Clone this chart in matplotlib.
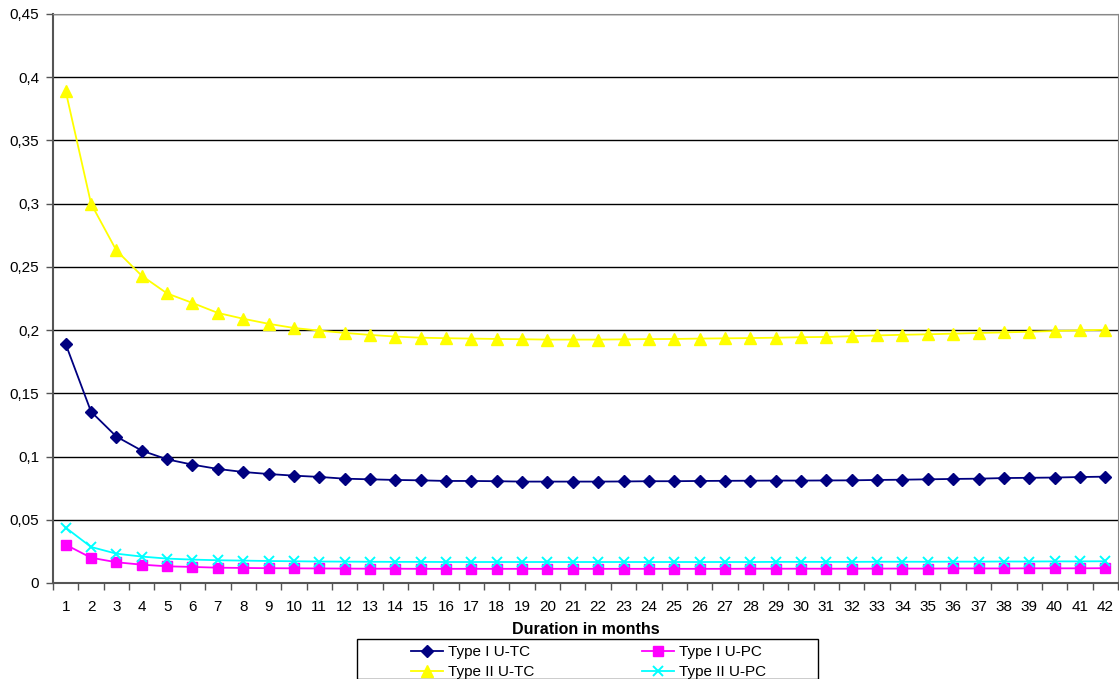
import matplotlib.pyplot as plt
from matplotlib.patches import Rectangle
from matplotlib.ticker import FuncFormatter, MultipleLocator

plt.rcParams['font.family'] = ['Liberation Sans', 'DejaVu Sans']

months = list(range(1, 43))

type1_utc = [0.189, 0.1355, 0.1158, 0.1047, 0.0978, 0.0936, 0.0902, 0.0878, 0.0862, 0.0849,
             0.0839, 0.0825, 0.0820, 0.0815, 0.0812, 0.0807, 0.0807, 0.0805, 0.0802, 0.0802,
             0.0802, 0.0802, 0.0803, 0.0805, 0.0805, 0.0807, 0.0808, 0.0809, 0.0810, 0.0810,
             0.0811, 0.0812, 0.0815, 0.0817, 0.0820, 0.0823, 0.0825, 0.0830, 0.0832, 0.0834,
             0.0838, 0.0841]
type1_upc = [0.0303, 0.0200, 0.0164, 0.0145, 0.0132, 0.0127, 0.0121, 0.0119, 0.0117, 0.0116,
             0.0115, 0.0114, 0.0113, 0.0113, 0.0112, 0.0112, 0.0112, 0.0112, 0.0112, 0.0112,
             0.0112, 0.0112, 0.0112, 0.0112, 0.0112, 0.0112, 0.0112, 0.0113, 0.0113, 0.0113,
             0.0113, 0.0113, 0.0114, 0.0114, 0.0114, 0.0115, 0.0115, 0.0115, 0.0116, 0.0116,
             0.0116, 0.0117]
type2_utc = [0.389, 0.300, 0.263, 0.243, 0.229, 0.2215, 0.2136, 0.209, 0.205, 0.2017,
             0.1996, 0.1978, 0.1962, 0.1949, 0.1940, 0.1936, 0.1933, 0.1930, 0.1928, 0.1925,
             0.1925, 0.1925, 0.1927, 0.1929, 0.1930, 0.1933, 0.1935, 0.1937, 0.1940, 0.1944,
             0.1946, 0.1952, 0.1958, 0.1963, 0.1967, 0.1972, 0.1977, 0.1982, 0.1987, 0.1993,
             0.1998, 0.2002]
type2_upc = [0.0438, 0.0285, 0.0232, 0.0209, 0.0193, 0.0185, 0.0180, 0.0177, 0.0174, 0.0172,
             0.0170, 0.0169, 0.0168, 0.0167, 0.0167, 0.0166, 0.0166, 0.0166, 0.0166, 0.0166,
             0.0166, 0.0166, 0.0166, 0.0166, 0.0166, 0.0166, 0.0166, 0.0166, 0.0167, 0.0167,
             0.0167, 0.0167, 0.0168, 0.0168, 0.0168, 0.0169, 0.0169, 0.0170, 0.0170, 0.0171,
             0.0171, 0.0172]

W, H = 1119, 679
fig = plt.figure(figsize=(W / 100, H / 100), dpi=100)
ax = fig.add_axes([53/W, 96/H, 1065/W, 569/H])

l1, = ax.plot(months, type1_utc, color='#000080', marker='D', markersize=6.5, lw=1.3, label='Type I U-TC')
l2, = ax.plot(months, type1_upc, color='#ff00ff', marker='s', markersize=7, lw=1.3, label='Type I U-PC')
l3, = ax.plot(months, type2_utc, color='#ffff00', marker='^', markersize=8, lw=1.3, label='Type II U-TC')
l4, = ax.plot(months, type2_upc, color='#00ffff', marker='x', markersize=7.5, mew=1.4, lw=1.3, label='Type II U-PC')

ax.set_xlim(0.5, 42.5)
ax.set_ylim(0, 0.45)
ax.yaxis.set_major_locator(MultipleLocator(0.05))
ax.yaxis.set_major_formatter(FuncFormatter(lambda v, p: ('%g' % round(v, 2)).replace('.', ',')))
ax.set_xticks(months)
ax.set_xticks([m + 0.5 for m in range(0, 43)], minor=True)
ax.tick_params(axis='x', which='major', length=0, pad=12, labelsize=11)
ax.tick_params(axis='x', which='minor', length=5, width=1, color='#555555')
ax.tick_params(axis='y', length=5, width=1, color='#555555', labelsize=11, pad=5)
ax.grid(axis='y', color='black', lw=1)
ax.set_axisbelow(True)
for side in ['left', 'bottom']:
    ax.spines[side].set_color('#555555')
    ax.spines[side].set_linewidth(1.5)
for side in ['top', 'right']:
    ax.spines[side].set_color('#888888')
ax.set_xlabel('Duration in months', fontweight='bold', fontsize=11.5, labelpad=6)

# legend box is wider than its contents, so draw the frame separately
fig.patches.append(Rectangle((357/W, 0), (818 - 357)/W, 1 - 639/H, transform=fig.transFigure,
                             fill=False, edgecolor='black', lw=1))
leg = fig.legend([l1, l3, l2, l4], [l.get_label() for l in [l1, l3, l2, l4]],
                 loc='upper left', bbox_to_anchor=(411/W, 1 - 645/H), ncol=2,
                 fontsize=11, frameon=False, handlelength=2.1, handletextpad=0.35,
                 columnspacing=7.0, borderpad=0, labelspacing=0.4, borderaxespad=0)

fig.savefig('out.png', dpi=100)
